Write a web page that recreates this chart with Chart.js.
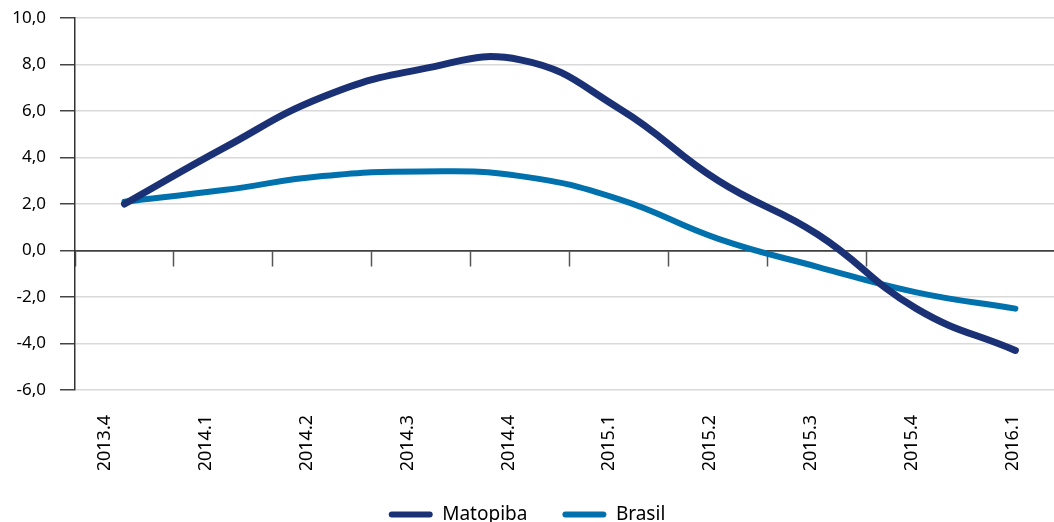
<!DOCTYPE html>
<html>
<head>
<meta charset="utf-8">
<script src="https://cdn.jsdelivr.net/npm/chart.js@4/dist/chart.umd.min.js"></script>
<style>
  html, body { margin: 0; padding: 0; background: #fff; overflow: hidden; }
  #wrap { width: 1054px; height: 534px; position: relative; }
</style>
</head>
<body>
<div id="wrap"><canvas id="growthChart"></canvas></div>
<script>
// values
const categories = ['2013.4', '2014.1', '2014.2', '2014.3', '2014.4', '2015.1', '2015.2', '2015.3', '2015.4', '2016.1'];
const matopiba = [2.0, 4.4, 6.6, 7.8, 8.2, 6.1, 3.0, 0.7, -2.5, -4.3];
const brasil = [2.1, 2.6, 3.2, 3.4, 3.2, 2.2, 0.5, -0.7, -1.8, -2.5];
const yTicks = [-6, -4, -2, 0, 2, 4, 6, 8, 10];

const navy = '#1b3175';
const blue = '#0071ad';
const font = "'Noto Sans', 'DejaVu Sans', sans-serif";

// Excel style number: 2,0
function fmt(v) {
  return v.toFixed(1).replace('.', ',');
}

function points(values) {
  return values.map((v, i) => ({ x: i, y: v }));
}

document.addEventListener('DOMContentLoaded', function() {
  const ctx = document.getElementById('growthChart').getContext('2d');
  const chart = new Chart(ctx, {
    type: 'line',
    data: {
      datasets: [{
        label: 'Matopiba',
        data: points(matopiba),
        borderColor: navy,
        backgroundColor: navy,
        borderWidth: 7,
        borderCapStyle: 'round',
        pointRadius: 0,
        tension: 0.45,
        xAxisID: 'x'
      }, {
        label: 'Brasil',
        data: points(brasil),
        borderColor: blue,
        backgroundColor: blue,
        borderWidth: 6,
        borderCapStyle: 'round',
        pointRadius: 0,
        tension: 0.45,
        xAxisID: 'x'
      }]
    },
    options: {
      responsive: true,
      maintainAspectRatio: false,
      animation: false,
      layout: { padding: { top: 18, left: 0, right: 0, bottom: 0 } },
      plugins: {
        tooltip: { enabled: false },
        legend: {
          position: 'bottom',
          labels: {
            font: { family: font, size: 19 },
            color: '#000',
            boxWidth: 44,
            boxHeight: 6,
            padding: 35,
            useBorderRadius: true,
            borderRadius: 3,
            generateLabels: function(c) {
              return Chart.defaults.plugins.legend.labels.generateLabels(c).map(function(l) {
                l.lineWidth = 0;
                return l;
              });
            }
          }
        }
      },
      scales: {
        // axis sitting on zero, only the small tick marks between quarters
        x: {
          type: 'linear',
          position: { y: 0 },
          min: -0.5,
          max: 9.39,
          afterBuildTicks: function(axis) {
            axis.ticks = categories.slice(0, -1).map((c, i) => ({ value: i - 0.5 }));
          },
          afterFit: function(axis) { axis.height = 0; },
          ticks: { display: false },
          grid: {
            drawOnChartArea: false,
            drawTicks: true,
            tickLength: 15,
            tickColor: '#555',
            tickWidth: 1.5
          },
          border: { display: true, color: '#404040', width: 1.5 }
        },
        // category labels at the bottom
        xl: {
          type: 'linear',
          position: 'bottom',
          min: -0.3,
          max: 9.41,
          afterBuildTicks: function(axis) {
            axis.ticks = categories.map((c, i) => ({ value: i }));
          },
          afterFit: function(axis) {
            axis.height = 80;
            axis.paddingLeft = 0;
            axis.paddingRight = 0;
          },
          ticks: {
            autoSkip: false,
            minRotation: 90,
            maxRotation: 90,
            padding: 25,
            color: '#000',
            font: { family: font, size: 18 },
            callback: function(value, index) { return categories[index]; }
          },
          grid: { display: false, drawTicks: false },
          border: { display: false }
        },
        y: {
          min: -6,
          max: 10,
          afterBuildTicks: function(axis) {
            axis.ticks = yTicks.map(v => ({ value: v }));
          },
          afterFit: function(axis) {
            axis.width = 75;
            axis.paddingTop = 0;
            axis.paddingBottom = 0;
          },
          ticks: {
            padding: 14,
            color: '#000',
            font: { family: font, size: 17 },
            callback: function(value) { return fmt(value); }
          },
          grid: {
            color: function(c) { return c.tick && c.tick.value === 0 ? '#404040' : '#d9d9d9'; },
            lineWidth: 1.5,
            tickLength: 15,
            tickColor: '#444'
          },
          border: { display: true, color: '#333', width: 1.5 }
        }
      }
    }
  });
});
</script>
</body>
</html>
